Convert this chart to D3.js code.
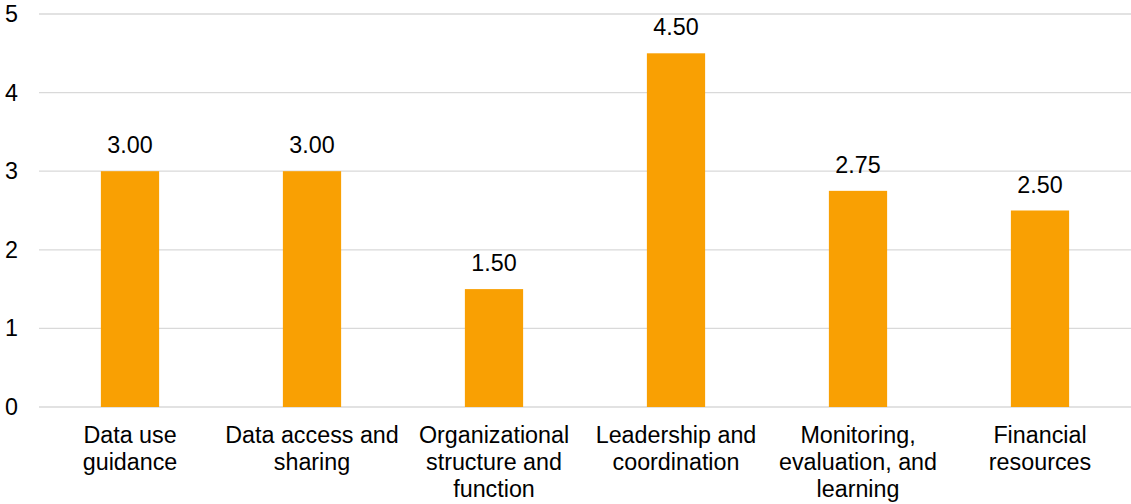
<!DOCTYPE html>
<html>
<head>
<meta charset="utf-8">
<script src="https://cdn.jsdelivr.net/npm/d3@7"></script>
<style>
  html, body { margin: 0; padding: 0; background: #fff; }
  svg { display: block; }
  text { font-family: "Liberation Sans", Arial, sans-serif; fill: #000; }
</style>
</head>
<body>
<div id="chart"></div>
<script>
// Average score per domain
const categories = [
  ["Data use", "guidance"],
  ["Data access and", "sharing"],
  ["Organizational", "structure and", "function"],
  ["Leadership and", "coordination"],
  ["Monitoring,", "evaluation, and", "learning"],
  ["Financial", "resources"]
];
const values = [3.00, 3.00, 1.50, 4.50, 2.75, 2.50];
const yTicks = [0, 1, 2, 3, 4, 5];

const width = 1131, height = 504;
const margin = { top: 14, right: 0, bottom: 97, left: 39 };
const fontSize = 23.3;

const svg = d3.select("#chart").append("svg")
  .attr("width", width)
  .attr("height", height);

const x = d3.scaleBand()
  .domain(d3.range(values.length))
  .range([margin.left, width - margin.right])
  .paddingInner(0.68)
  .paddingOuter(0.34);

const y = d3.scaleLinear()
  .domain([0, 5])
  .range([height - margin.bottom, margin.top]);

// Horizontal gridlines
svg.append("g")
  .selectAll("line")
  .data(yTicks)
  .join("line")
  .attr("x1", margin.left)
  .attr("x2", width - margin.right)
  .attr("y1", d => y(d))
  .attr("y2", d => y(d))
  .attr("stroke", "#d9d9d9")
  .attr("stroke-width", 1.3);

// Y axis labels
const yAxis = d3.axisLeft(y).tickValues(yTicks).tickSize(0).tickPadding(0).tickFormat(d3.format("d"));
svg.append("g")
  .attr("transform", `translate(18,0)`)
  .call(yAxis)
  .call(g => g.select(".domain").remove())
  .call(g => g.selectAll("text")
    .style("font-size", fontSize + "px")
    .style("font-family", "'Liberation Sans', Arial, sans-serif")
    .attr("fill", "#000"));

// Bars
svg.append("g")
  .selectAll("rect")
  .data(values)
  .join("rect")
  .attr("x", (d, i) => x(i))
  .attr("width", x.bandwidth())
  .attr("y", d => y(d))
  .attr("height", d => y(0) - y(d))
  .attr("fill", "#f9a003");

// Value labels
svg.append("g")
  .selectAll("text")
  .data(values)
  .join("text")
  .attr("x", (d, i) => x(i) + x.bandwidth() / 2)
  .attr("y", d => y(d) - 18)
  .attr("text-anchor", "middle")
  .style("font-size", fontSize + "px")
  .text(d => d3.format(".2f")(d));

// Category labels
const catG = svg.append("g")
  .selectAll("text")
  .data(categories)
  .join("text")
  .attr("text-anchor", "middle")
  .style("font-size", fontSize + "px")
  .attr("transform", (d, i) => `translate(${x(i) + x.bandwidth() / 2},${y(0) + 36})`);

catG.selectAll("tspan")
  .data(d => d)
  .join("tspan")
  .attr("x", 0)
  .attr("y", (d, j) => j * 27)
  .text(d => d);
</script>
</body>
</html>
